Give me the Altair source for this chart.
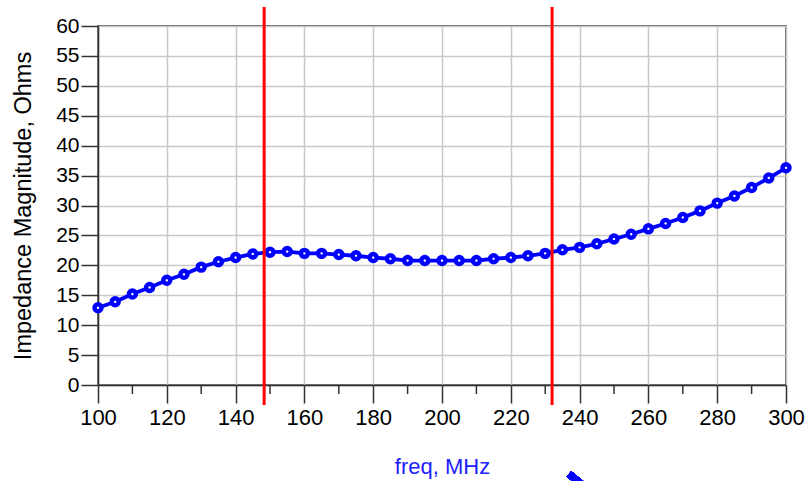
import altair as alt
import pandas as pd

freq = [100, 105, 110, 115, 120, 125, 130, 135, 140, 145, 150, 155, 160, 165, 170,
        175, 180, 185, 190, 195, 200, 205, 210, 215, 220, 225, 230, 235, 240, 245,
        250, 255, 260, 265, 270, 275, 280, 285, 290, 295, 300]
imp = [12.9, 13.9, 15.2, 16.3, 17.5, 18.5, 19.7, 20.6, 21.3, 21.9, 22.2, 22.3, 22.0, 22.0, 21.8,
       21.6, 21.3, 21.1, 20.8, 20.8, 20.8, 20.8, 20.8, 21.1, 21.3, 21.6, 22.0, 22.6, 23.0, 23.6,
       24.4, 25.2, 26.1, 27.0, 28.0, 29.1, 30.4, 31.6, 33.0, 34.6, 36.3]
markers = [148.3, 232.0]
x_major = [100, 120, 140, 160, 180, 200, 220, 240, 260, 280, 300]
x_minor = [110, 130, 150, 170, 190, 210, 230, 250, 270, 290]
y_ticks = list(range(0, 61, 5))

df = pd.DataFrame({"freq": freq, "imp": imp})
mk = pd.DataFrame({"f": markers})
minor_df = pd.DataFrame({"f": x_minor})

W, H = 688, 359
FONT = "Liberation Sans"

xscale = alt.Scale(domain=[100, 300], nice=False, zero=False)
yscale = alt.Scale(domain=[0, 60], nice=False)

base = alt.Chart(df)

line = base.mark_line(
    color="#0000ff", strokeWidth=3.8,
    point=alt.OverlayMarkDef(filled=False, color="#0000ff", strokeWidth=4.5, size=48, fill="white"),
).encode(
    x=alt.X("freq:Q", scale=xscale,
            axis=alt.Axis(values=x_major, title="freq, MHz", titleColor="#2020ff",
                          titleFont=FONT, titleFontSize=22, titleFontWeight="normal",
                          titlePadding=28, labelFont=FONT, labelFontSize=22,
                          labelColor="black", labelPadding=4, tickSize=18, tickColor="#333333",
                          tickWidth=1.5, domainColor="#333333", domainWidth=1.5,
                          gridColor="#c8c8c8", gridWidth=1.5, format="d")),
    y=alt.Y("imp:Q", scale=yscale,
            axis=alt.Axis(values=y_ticks, title="Impedance Magnitude, Ohms",
                          titleFont=FONT, titleFontSize=23.5, titleFontWeight="normal",
                          titleColor="black", titlePadding=20, labelFont=FONT, labelFontSize=21,
                          labelColor="black", labelPadding=2, tickSize=17, tickColor="#333333",
                          tickWidth=1.5, domainColor="#333333", domainWidth=1.5,
                          gridColor="#c8c8c8", gridWidth=1.5)),
)

minor = alt.Chart(minor_df).mark_rule(color="#333333", strokeWidth=1.5).encode(
    x=alt.X("f:Q", scale=xscale),
    y=alt.value(H), y2=alt.value(H + 9),
)

red = alt.Chart(mk).mark_rule(color="#ff0000", strokeWidth=3).encode(
    x=alt.X("f:Q", scale=xscale),
    y=alt.value(-19), y2=alt.value(H + 20),
)

stroke = alt.Chart(df).mark_rule(color="#0000ff", strokeWidth=7, strokeCap="butt").encode(
    x=alt.value(471), x2=alt.value(492), y=alt.value(448), y2=alt.value(465),
)

chart = alt.layer(line, minor, red, stroke).properties(
    width=W, height=H,
    autosize=alt.AutoSizeParams(type="none"),
    padding={"left": 98, "top": 26, "right": 21, "bottom": 96},
    background="white",
).configure_view(stroke="#333333", strokeWidth=1.5, clip=False).configure_axis(labelFlush=False)

chart.save("out.html", embed_options={"renderer": "svg", "actions": False})
